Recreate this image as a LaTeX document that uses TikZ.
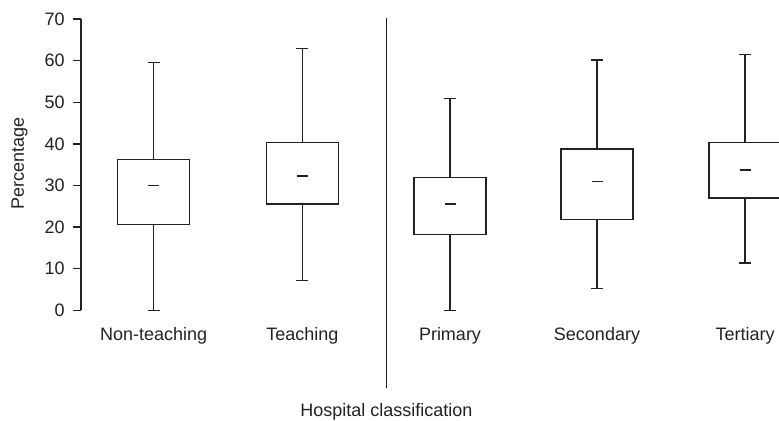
\documentclass[tikz,border=0pt]{standalone}
\usepackage{fontspec}
\setmainfont{Liberation Sans}
\usepackage{tikz}
\definecolor{ink}{HTML}{222222}

\begin{document}
\begin{tikzpicture}[x=0.75pt,y=3.12pt,font=\fontsize{13.5}{16}\selectfont,
  every node/.style={text=ink},
  boxline/.style={line width=1pt,draw=ink}]
  \useasboundingbox (-81,-26.37) rectangle (698,74.6);
  \clip (-81,-26.37) rectangle (698,74.6);
  % axis and ticks
  \draw[boxline] (0,0)--(0,70);
  \foreach \v in {0,10,...,70}{
    \draw[boxline] (-8,\v)--(0,\v);
    \node[anchor=east,inner sep=0] (tick\v) at (-16,\v) {\v};
  }
  \node[rotate=90,inner sep=0] (ylab) at (-61.5,35.2) {Percentage};
  % boxes: centre / min / q1 / median / q3 / max / label
  \foreach \cx/\lo/\qa/\md/\qb/\hi/\name [count=\i] in
    {72.7/0/20.6/30/36.3/59.5/Non-teaching,
     221.3/7.1/25.6/32.3/40.4/63.0/Teaching,
     369/0/18.2/25.6/32.0/50.9/Primary,
     516/5.3/21.8/31.0/38.8/60.2/Secondary,
     664/11.4/27.0/33.7/40.4/61.5/Tertiary}{
    \draw[boxline] (\cx-36,\qa) rectangle (\cx+36,\qb);
    \draw[boxline] (\cx,\qb)--(\cx,\hi) (\cx-6,\hi)--(\cx+6,\hi);
    \draw[boxline] (\cx,\qa)--(\cx,\lo) (\cx-6,\lo)--(\cx+6,\lo);
    \draw[boxline] (\cx-5.5,\md)--(\cx+5.5,\md);
    \node[anchor=base] (cat\i) at (\cx,-7.3) {\name};
  }
  % divider between the two groupings
  \draw[boxline] (305.5,70.2)--(305.5,-18.6);
  \node[anchor=base] (xlab) at (305.5,-25.6) {Hospital classification};
\end{tikzpicture}
\end{document}
